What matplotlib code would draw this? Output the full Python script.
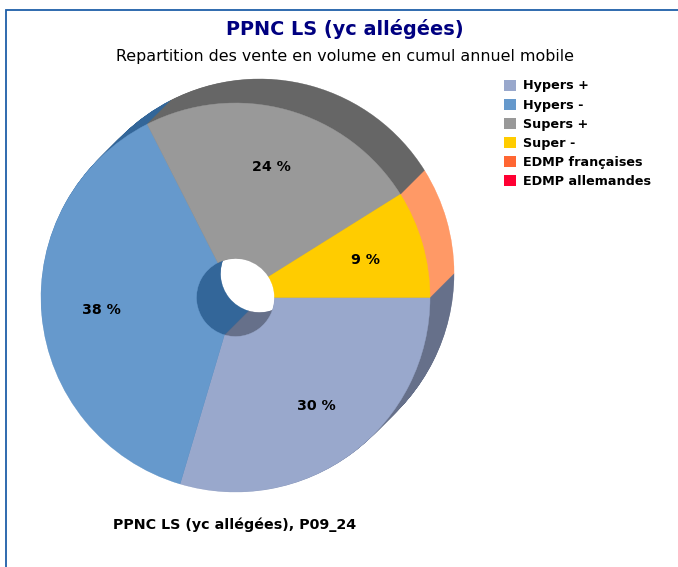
import numpy as np
import matplotlib
matplotlib.use("Agg")
import matplotlib.pyplot as plt
from matplotlib.patches import Wedge, Patch

plt.rcParams['font.family'] = ['DejaVu Sans']

categories = ["Hypers +", "Hypers -", "Supers +", "Super -", "EDMP françaises", "EDMP allemandes"]
values = [29.6, 37.9, 23.6, 8.9, 0, 0]
labels = ["30 %", "38 %", "24 %", "9 %"]
colors = ["#99A8CC", "#6699CC", "#999999", "#FFCC00", "#FF6633", "#FF0033"]
side_colors = ["#66708A", "#336699", "#666666", "#FF9966"]
side_order = [0, 1, 3, 2]

W, H = 678, 567
fig = plt.figure(figsize=(W / 100, H / 100), dpi=100)
ax = fig.add_axes([0, 0, 1, 1])
ax.set_xlim(0, W)
ax.set_ylim(H, 0)
ax.axis("off")

# y axis is flipped, so positive wedge angles already run clockwise
cx, cy, r, hole = 235.5, 297.5, 194.5, 39
depth = 24
edges = np.cumsum([0] + values) / 100 * 360

# side of the disc: same wedges stacked from back to front
for t in np.arange(depth, 0, -0.5):
    for i in side_order:
        ax.add_patch(Wedge((cx + t, cy - t), r, edges[i], edges[i + 1], width=r - hole,
                           fc=side_colors[i], ec=side_colors[i], lw=0.3))

for i in range(4):
    ax.add_patch(Wedge((cx, cy), r, edges[i], edges[i + 1], width=r - hole,
                       fc=colors[i], ec=colors[i], lw=0.3))
    mid = np.radians((edges[i] + edges[i + 1]) / 2)
    ax.text(cx + 135 * np.cos(mid), cy + 135 * np.sin(mid), labels[i], ha="center", va="center",
            fontsize=10.2, fontweight="bold", color="black")

# frame, no line on the right or bottom
ax.plot([5.5, 5.5, W], [H, 10, 10], color="#1F5FA8", lw=1.3, solid_joinstyle="miter")

ax.text(345, 29, "PPNC LS (yc allégées)", ha="center", va="center", fontsize=13.9,
        fontweight="bold", color="#000080")
ax.text(345, 57, "Repartition des vente en volume en cumul annuel mobile", ha="center", va="center",
        fontsize=11.4, color="black")
ax.text(235, 525, "PPNC LS (yc allégées), P09_24", ha="center", va="center", fontsize=10.3,
        fontweight="bold", color="black")

handles = [Patch(fc=c, ec="none") for c in colors]
ax.legend(handles, categories, loc="upper left", bbox_to_anchor=(504 / W, 1 - 79.5 / H), frameon=False,
          prop={"weight": "bold", "size": 9.2}, handlelength=0.94, handleheight=0.94,
          handletextpad=0.55, labelspacing=0.47, borderpad=0, borderaxespad=0)

fig.savefig("out.png", dpi=100)
